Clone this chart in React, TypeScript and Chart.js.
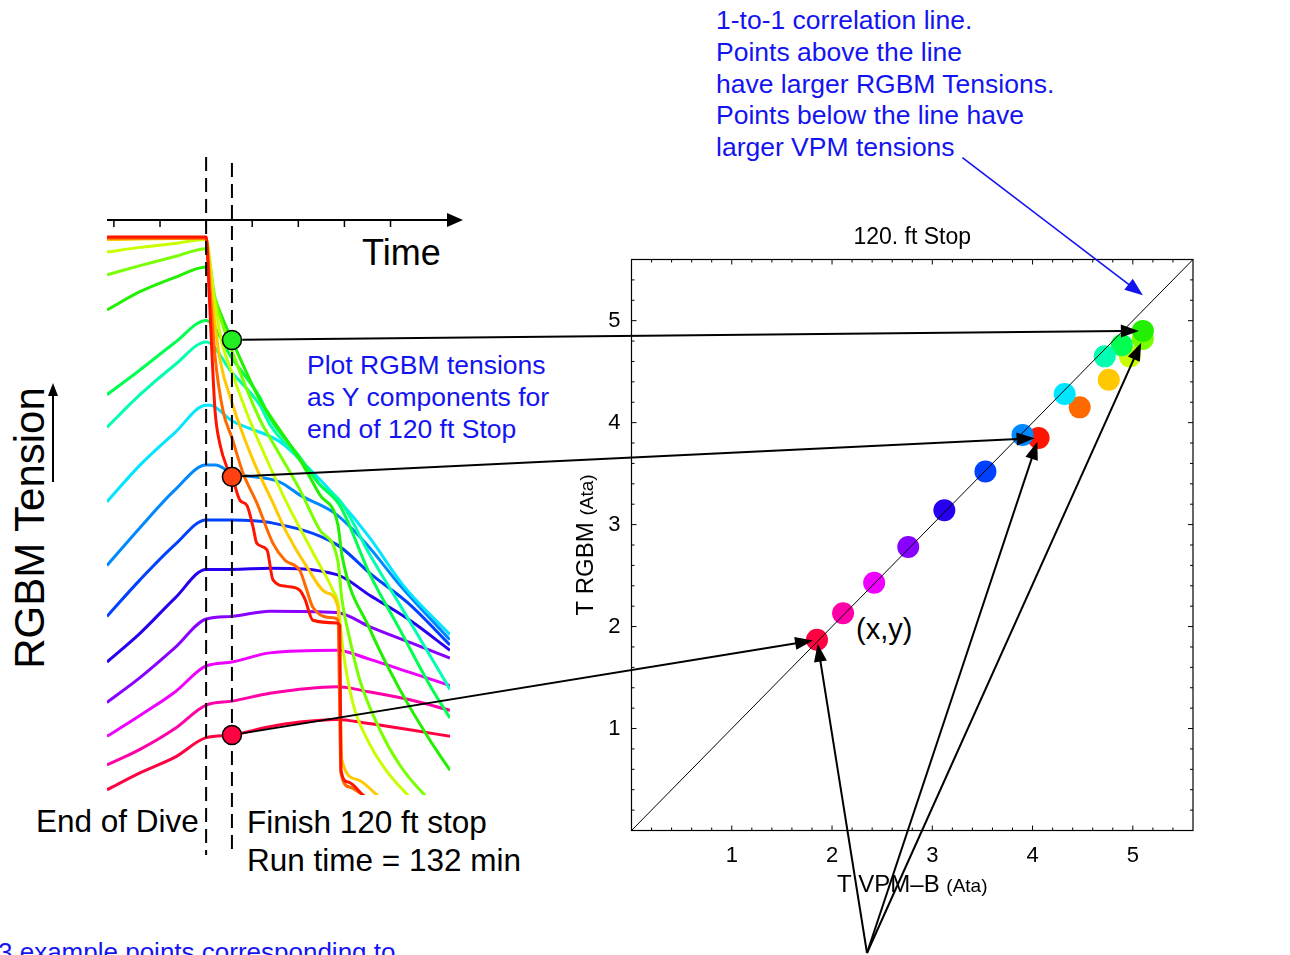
import React, { useEffect, useRef } from 'react';
import { Chart, registerables } from 'chart.js';

Chart.register(...registerables);

const PAGE_W = 1290;
const PAGE_H = 955;
const FONT = '"Liberation Sans", Arial, Helvetica, sans-serif';
const BLUE = '#1414f0';

type Pt = [number, number];

// ---- Left panel: RGBM compartment tensions (Ata) vs run time (min) ----
const comp01: Pt[] = [[77, 5.69], [120, 5.69], [121.3, 5.27], [122.6, 4.77], [123.9, 4.35], [126, 4.1], [129.1, 3.92], [131.2, 3.85], [134.7, 3.67], [137.7, 3.63], [140.3, 3.47], [142, 3.34], [146.4, 3.29], [149, 3.06], [155, 3.01], [160.7, 2.98], [162.9, 2.91], [166.3, 2.75], [176.7, 2.73], [178, 2.71], [178.5, 1.6], [181.5, 1.51], [188, 1.41], [193, 1.33]];
const comp02: Pt[] = [[77, 5.68], [120, 5.68], [121.7, 5.28], [123.9, 4.77], [127.4, 4.35], [131.2, 4.15], [136, 3.88], [142, 3.65], [149, 3.34], [154.2, 3.21], [160.7, 3.13], [163.7, 2.98], [166.3, 2.85], [175, 2.77], [177.2, 2.75], [178.5, 1.58], [182.4, 1.47], [188, 1.41], [193, 1.35]];
const comp03: Pt[] = [[77, 5.67], [120, 5.68], [122.6, 5.21], [126, 4.75], [131.2, 4.42], [140.3, 3.98], [149, 3.65], [155, 3.42], [163.7, 3.16], [172.4, 2.96], [177.2, 2.85], [178.9, 1.68], [185.4, 1.53], [194.1, 1.41], [199.7, 1.33]];
const comp04: Pt[] = [[77, 5.575], [91.3, 5.61], [106.5, 5.64], [120, 5.67], [123.5, 5.21], [127, 4.87], [131.2, 4.65], [139, 4.28], [146.4, 3.98], [155, 3.65], [166.3, 3.27], [175, 2.98], [177.2, 2.88], [179.4, 2.52], [183.7, 2.11], [189.8, 1.84], [197.6, 1.61], [207.5, 1.41], [212.8, 1.33]];
const comp05: Pt[] = [[77, 5.4], [91.3, 5.47], [106.5, 5.54], [120, 5.6], [124, 5.21], [131.2, 4.82], [143.3, 4.29], [147.7, 4.15], [160.7, 3.75], [169.4, 3.44], [177.2, 3.2], [178.9, 2.91], [182.4, 2.6], [186.7, 2.29], [195.4, 1.91], [204, 1.64], [214.8, 1.41], [221.4, 1.31]];
const comp06: Pt[] = [[77, 5.13], [91.3, 5.27], [106.5, 5.38], [120, 5.46], [124, 5.21], [131.2, 4.9], [143.3, 4.44], [147.7, 4.32], [160.7, 3.98], [169.4, 3.71], [177.2, 3.48], [178.9, 3.25], [191.1, 2.68], [204, 2.22], [217.1, 1.83], [225.8, 1.6]];
const comp07: Pt[] = [[77, 4.48], [91.3, 4.67], [106.5, 4.88], [120, 5.05], [131.2, 4.76], [143.3, 4.46], [147.7, 4.3], [160.7, 4.0], [169.4, 3.79], [178, 3.63], [191.1, 3.1], [204, 2.68], [217.1, 2.25], [225.8, 2.0]];
const comp08: Pt[] = [[77, 4.23], [91.3, 4.48], [106.5, 4.71], [120, 4.885], [131.2, 4.65], [143.3, 4.4], [147.7, 4.25], [160.7, 3.98], [169.4, 3.79], [178, 3.67], [191.1, 3.25], [204, 2.87], [217.1, 2.48], [225.8, 2.22]];
const comp09: Pt[] = [[77, 3.66], [91.3, 3.94], [106.5, 4.19], [120, 4.4], [121.7, 4.4], [131.2, 4.28], [152, 4.12], [162, 3.96], [176.7, 3.69], [191.1, 3.38], [205.4, 3.02], [225.8, 2.64]];
const comp10: Pt[] = [[77, 3.17], [91.3, 3.46], [106.5, 3.75], [120, 3.94], [124, 3.94], [131.2, 3.88], [152, 3.81], [160.7, 3.71], [175.9, 3.57], [189.8, 3.33], [204, 3.02], [225.8, 2.6]];
const comp11: Pt[] = [[77, 2.78], [91.3, 3.06], [106.5, 3.33], [120, 3.52], [131.2, 3.52], [147.7, 3.5], [176.7, 3.33], [191.1, 3.11], [208.4, 2.87], [225.8, 2.56]];
const comp12: Pt[] = [[77, 2.43], [91.3, 2.65], [106.5, 2.92], [120, 3.14], [131.2, 3.14], [147.7, 3.15], [176.7, 3.1], [191.1, 2.94], [208.4, 2.75], [225.8, 2.52]];
const comp13: Pt[] = [[77, 2.12], [91.3, 2.31], [106.5, 2.54], [120, 2.76], [131.2, 2.78], [147.7, 2.82], [176.7, 2.81], [191.1, 2.7], [208.4, 2.58], [225.8, 2.46]];
const comp14: Pt[] = [[77, 1.86], [91.3, 2.02], [106.5, 2.2], [120, 2.4], [131.2, 2.43], [147.7, 2.5], [176.7, 2.52], [191.1, 2.45], [208.4, 2.35], [225.8, 2.25]];
const comp15: Pt[] = [[77, 1.64], [91.3, 1.76], [106.5, 1.92], [120, 2.1], [131.2, 2.13], [147.7, 2.19], [176.7, 2.24], [191.1, 2.2], [208.4, 2.14], [225.8, 2.06]];
const comp16: Pt[] = [[77, 1.45], [91.3, 1.58], [106.5, 1.7], [120, 1.85], [131.2, 1.87], [146.4, 1.93], [160.7, 1.97], [176.7, 1.99], [189.8, 1.96], [208.4, 1.91], [225.8, 1.86]];

const tensionCurves: Pt[][] = [comp01, comp02, comp03, comp04, comp05, comp06, comp07, comp08, comp09, comp10, comp11, comp12, comp13, comp14, comp15, comp16];

const compartmentColors = ['#ff1400', '#ff6a00', '#ffc800', '#c8ff00', '#78ff00', '#22f000', '#00ff50', '#00ffb0', '#00e6ff', '#0088ff', '#0040ff', '#2800f0', '#8800ff', '#ee00ff', '#ff00a8', '#ff0040'];

const timeRange = [77, 225.8];
const leftTensionRange = [1.41, 5.82];
const timeTicks = [80, 100, 120, 140, 160, 180, 200];
const endOfDiveTime = 120;
const stopEndTime = 131.2;
const markedCompartments = [6, 1, 16];
const markerColors = ['#22ee22', '#ff4010', '#ff0040'];
const apexTargets = [16, 1, 5];

// ---- Right panel: VPM-B (x) vs RGBM (y) tensions at end of 120 ft stop ----
const vpmTension = [4.06, 4.47, 4.76, 4.97, 5.1, 5.1, 4.89, 4.72, 4.32, 3.9, 3.53, 3.12, 2.76, 2.42, 2.11, 1.85];
const rgbmTension = [3.85, 4.15, 4.42, 4.65, 4.82, 4.9, 4.76, 4.65, 4.28, 3.88, 3.52, 3.14, 2.78, 2.43, 2.13, 1.87];
const axisRange = [0, 5.6];
const axisTicks = [1, 2, 3, 4, 5];
const identityLine = [0, 5.6];
const noteArrowFrom = { x: 3.3, y: 6.6 };
const noteArrowTo = { x: 5.1, y: 5.25 };

// ---- layout ----
const LEFT_AREA = { left: 107, top: 220, right: 450, bottom: 795 };
const RIGHT_AREA = { left: 631.5, top: 259.5, right: 1193, bottom: 830.5 };
const Y_AXIS_W = 70;
const X_AXIS_H = 60;
const APEX = { x: 867, y: 953 };

function valueAt(comp: number, t: number): number {
  const p = tensionCurves[comp - 1].find((q) => Math.abs(q[0] - t) < 1e-9);
  return p ? p[1] : NaN;
}

function arrow(ctx: CanvasRenderingContext2D, x1: number, y1: number, x2: number, y2: number, color: string, lw: number, headLen: number, headHalf: number) {
  const ang = Math.atan2(y2 - y1, x2 - x1);
  const c = Math.cos(ang), s = Math.sin(ang);
  const bx = x2 - headLen * c, by = y2 - headLen * s;
  ctx.save();
  ctx.strokeStyle = color;
  ctx.fillStyle = color;
  ctx.lineWidth = lw;
  ctx.beginPath();
  ctx.moveTo(x1, y1);
  ctx.lineTo(bx + c, by + s);
  ctx.stroke();
  ctx.beginPath();
  ctx.moveTo(x2, y2);
  ctx.lineTo(bx - headHalf * s, by + headHalf * c);
  ctx.lineTo(bx + headHalf * s, by - headHalf * c);
  ctx.closePath();
  ctx.fill();
  ctx.restore();
}

function mixedText(ctx: CanvasRenderingContext2D, parts: { text: string; size: number }[], cx: number, baseline: number) {
  const widths = parts.map((p) => {
    ctx.font = `${p.size}px ${FONT}`;
    return ctx.measureText(p.text).width;
  });
  let x = cx - widths.reduce((a, b) => a + b, 0) / 2;
  ctx.textAlign = 'left';
  ctx.textBaseline = 'alphabetic';
  parts.forEach((p, i) => {
    ctx.font = `${p.size}px ${FONT}`;
    ctx.fillText(p.text, x, baseline);
    x += widths[i];
  });
}

const leftDecor = {
  id: 'leftDecor',
  beforeDatasetDraw(chart: any, args: any) {
    if (args.index !== tensionCurves.length) return;
    const { ctx, scales } = chart;
    const xs = scales.x;
    ctx.save();
    ctx.strokeStyle = '#000';
    ctx.lineWidth = 2;
    ctx.setLineDash([14, 7]);
    const x1 = xs.getPixelForValue(endOfDiveTime);
    const x2 = xs.getPixelForValue(stopEndTime);
    ctx.beginPath();
    ctx.moveTo(x1, 157);
    ctx.lineTo(x1, 855);
    ctx.moveTo(x2, 163);
    ctx.lineTo(x2, 855);
    ctx.stroke();
    ctx.restore();
  },
  afterDraw(chart: any) {
    const { ctx, chartArea: a, scales } = chart;
    const xs = scales.x;
    ctx.save();
    ctx.strokeStyle = '#000';
    ctx.fillStyle = '#000';
    ctx.lineWidth = 2;
    ctx.beginPath();
    ctx.moveTo(a.left, a.top);
    ctx.lineTo(452, a.top);
    ctx.stroke();
    ctx.beginPath();
    ctx.moveTo(463, a.top);
    ctx.lineTo(447, a.top - 7);
    ctx.lineTo(447, a.top + 7);
    ctx.closePath();
    ctx.fill();
    ctx.lineWidth = 1.5;
    timeTicks.forEach((t) => {
      const px = xs.getPixelForValue(t);
      ctx.beginPath();
      ctx.moveTo(px, a.top);
      ctx.lineTo(px, a.top + 7);
      ctx.stroke();
    });
    ctx.restore();
    arrow(ctx, 53, 482, 53, 383, '#000', 2, 13, 5);
  },
};

function makeLeftConfig(): any {
  const datasets: any[] = tensionCurves.map((pts, i) => ({
    type: 'line',
    data: pts.map(([t, v]) => ({ x: t, y: v })),
    borderColor: compartmentColors[i],
    borderWidth: 3,
    pointRadius: 0,
    fill: false,
    cubicInterpolationMode: 'monotone',
    clip: 0,
    order: 1,
  }));
  datasets.push({
    type: 'line',
    data: markedCompartments.map((c) => ({ x: stopEndTime, y: valueAt(c, stopEndTime) })),
    showLine: false,
    pointRadius: 9.5,
    pointBackgroundColor: markerColors,
    pointBorderColor: '#000',
    pointBorderWidth: 1.5,
    clip: false,
    order: 0,
  });
  return {
    type: 'line',
    data: { datasets },
    options: {
      responsive: false,
      animation: false,
      events: [],
      layout: { padding: { left: LEFT_AREA.left, top: LEFT_AREA.top, right: PAGE_W - LEFT_AREA.right, bottom: PAGE_H - LEFT_AREA.bottom } },
      plugins: { legend: { display: false }, tooltip: { enabled: false }, title: { display: false } },
      scales: {
        x: { type: 'linear', min: timeRange[0], max: timeRange[1], display: false },
        y: { type: 'linear', min: leftTensionRange[0], max: leftTensionRange[1], display: false },
      },
    },
    plugins: [leftDecor],
  };
}

function makeRightConfig(left: Chart): any {
  const rightDecor = {
    id: 'rightDecor',
    beforeDatasetsDraw(chart: any) {
      const { ctx, chartArea: a, scales } = chart;
      const xs = scales.x, ys = scales.y;
      ctx.save();
      ctx.strokeStyle = '#000';
      ctx.lineWidth = 1.2;
      ctx.strokeRect(a.left, a.top, a.right - a.left, a.bottom - a.top);
      ctx.lineWidth = 1;
      for (let i = 1; i * 0.2 < axisRange[1] - 1e-6; i++) {
        const v = i * 0.2;
        const major = Math.abs(v - Math.round(v)) < 1e-6;
        const len = major ? 5 : 3;
        const px = xs.getPixelForValue(v);
        const py = ys.getPixelForValue(v);
        ctx.beginPath();
        ctx.moveTo(px, a.bottom);
        ctx.lineTo(px, a.bottom - len);
        ctx.moveTo(px, a.top);
        ctx.lineTo(px, a.top + len);
        ctx.moveTo(a.left, py);
        ctx.lineTo(a.left + len, py);
        ctx.moveTo(a.right, py);
        ctx.lineTo(a.right - len, py);
        ctx.stroke();
      }
      ctx.restore();
    },
    afterDraw(chart: any) {
      const { ctx, chartArea: a, scales } = chart;
      const xs = scales.x, ys = scales.y;
      const cx = (a.left + a.right) / 2;
      ctx.save();
      ctx.fillStyle = '#000';
      ctx.font = `23px ${FONT}`;
      ctx.textAlign = 'center';
      ctx.textBaseline = 'alphabetic';
      ctx.fillText('120. ft Stop', cx, 244);
      mixedText(ctx, [{ text: 'T VPM–B ', size: 24 }, { text: '(Ata)', size: 19 }], cx, 892);
      ctx.save();
      ctx.translate(593, (a.top + a.bottom) / 2);
      ctx.rotate(-Math.PI / 2);
      mixedText(ctx, [{ text: 'T RGBM ', size: 24 }, { text: '(Ata)', size: 19 }], 0, 0);
      ctx.restore();
      ctx.restore();

      // arrows from left-panel markers to the scatter points
      const lx = left.scales.x, ly = left.scales.y;
      const r0 = 10.3;
      markedCompartments.forEach((c) => {
        const sx = lx.getPixelForValue(stopEndTime);
        const sy = ly.getPixelForValue(valueAt(c, stopEndTime));
        const tx = xs.getPixelForValue(vpmTension[c - 1]);
        const ty = ys.getPixelForValue(rgbmTension[c - 1]);
        const d = Math.hypot(tx - sx, ty - sy);
        const ux = (tx - sx) / d, uy = (ty - sy) / d;
        arrow(ctx, sx + ux * r0, sy + uy * r0, tx - ux * 4, ty - uy * 4, '#000', 2, 18, 6.5);
      });
      apexTargets.forEach((c) => {
        const tx = xs.getPixelForValue(vpmTension[c - 1]);
        const ty = ys.getPixelForValue(rgbmTension[c - 1]);
        const d = Math.hypot(tx - APEX.x, ty - APEX.y);
        const ux = (tx - APEX.x) / d, uy = (ty - APEX.y) / d;
        arrow(ctx, APEX.x, APEX.y, tx - ux * 4, ty - uy * 4, '#000', 2, 18, 6.5);
      });
      arrow(
        ctx,
        xs.getPixelForValue(noteArrowFrom.x),
        ys.getPixelForValue(noteArrowFrom.y),
        xs.getPixelForValue(noteArrowTo.x),
        ys.getPixelForValue(noteArrowTo.y),
        BLUE,
        1.6,
        18,
        7
      );
    },
  };

  const tickFont = { family: FONT, size: 22 };
  return {
    type: 'scatter',
    data: {
      datasets: [
        {
          type: 'line',
          data: identityLine.map((v) => ({ x: v, y: v })),
          borderColor: '#000',
          borderWidth: 1,
          pointRadius: 0,
          fill: false,
          order: 0,
        },
        {
          type: 'scatter',
          data: vpmTension.map((v, i) => ({ x: v, y: rgbmTension[i] })),
          backgroundColor: compartmentColors,
          pointBackgroundColor: compartmentColors,
          pointRadius: 11,
          pointBorderWidth: 0,
          borderWidth: 0,
          order: 1,
        },
      ],
    },
    options: {
      responsive: false,
      animation: false,
      events: [],
      layout: {
        padding: {
          left: RIGHT_AREA.left - Y_AXIS_W,
          top: RIGHT_AREA.top,
          right: PAGE_W - RIGHT_AREA.right,
          bottom: PAGE_H - RIGHT_AREA.bottom - X_AXIS_H,
        },
      },
      plugins: { legend: { display: false }, tooltip: { enabled: false }, title: { display: false } },
      scales: {
        x: {
          type: 'linear',
          position: 'bottom',
          min: axisRange[0],
          max: axisRange[1],
          grid: { display: false },
          border: { display: false },
          ticks: { font: tickFont, color: '#000', padding: 4, maxRotation: 0, autoSkip: false },
          afterBuildTicks: (s: any) => {
            s.ticks = axisTicks.map((v) => ({ value: v }));
          },
          afterFit: (s: any) => {
            s.height = X_AXIS_H;
          },
        },
        y: {
          type: 'linear',
          position: 'left',
          min: axisRange[0],
          max: axisRange[1],
          grid: { display: false },
          border: { display: false },
          ticks: { font: tickFont, color: '#000', padding: 3, autoSkip: false },
          afterBuildTicks: (s: any) => {
            s.ticks = axisTicks.map((v) => ({ value: v }));
          },
          afterFit: (s: any) => {
            s.width = Y_AXIS_W;
          },
        },
      },
    },
    plugins: [rightDecor],
  };
}

function Label(props: { text: string; left: number; baseline: number; size: number; color?: string }) {
  const { text, left, baseline, size, color } = props;
  return (
    <div
      style={{
        position: 'absolute',
        left,
        top: baseline - 0.8465 * size,
        fontSize: size,
        lineHeight: `${size}px`,
        whiteSpace: 'nowrap',
        color: color || '#000',
        fontFamily: FONT,
      }}
    >
      {text}
    </div>
  );
}

const noteLines = ['1-to-1 correlation line.', 'Points above the line', 'have larger RGBM Tensions.', 'Points below the line have', 'larger VPM tensions'];
const noteBaselines = [29, 61, 93, 124, 156];
const plotLines = ['Plot RGBM tensions', 'as Y components for', 'end of 120 ft Stop'];
const plotBaselines = [374, 406, 438];

export default function App() {
  const leftRef = useRef<HTMLCanvasElement>(null);
  const rightRef = useRef<HTMLCanvasElement>(null);

  useEffect(() => {
    const left = new Chart(leftRef.current as HTMLCanvasElement, makeLeftConfig());
    const right = new Chart(rightRef.current as HTMLCanvasElement, makeRightConfig(left));
    return () => {
      right.destroy();
      left.destroy();
    };
  }, []);

  return (
    <div style={{ position: 'absolute', left: 0, top: 0, width: PAGE_W, height: PAGE_H, overflow: 'hidden', background: '#fff' }}>
      <Label text="Time" left={362} baseline={265} size={36} />
      <div
        style={{
          position: 'absolute',
          left: 30,
          top: 528,
          transform: 'translate(-50%, -50%) rotate(-90deg)',
          fontSize: 42,
          lineHeight: '42px',
          whiteSpace: 'nowrap',
          fontFamily: FONT,
          color: '#000',
        }}
      >
        RGBM Tension
      </div>
      <Label text="End of Dive" left={36} baseline={833} size={31.5} />
      <Label text="Finish 120 ft stop" left={247} baseline={834} size={31.5} />
      <Label text="Run time = 132 min" left={247} baseline={872} size={31.5} />
      {plotLines.map((t, i) => (
        <Label key={t} text={t} left={307} baseline={plotBaselines[i]} size={26.5} color={BLUE} />
      ))}
      {noteLines.map((t, i) => (
        <Label key={t} text={t} left={716} baseline={noteBaselines[i]} size={26.5} color={BLUE} />
      ))}
      <Label text="(x,y)" left={856} baseline={640} size={29} />
      <Label text="3 example points corresponding to" left={-2} baseline={961} size={26} color={BLUE} />
      <canvas ref={leftRef} width={PAGE_W} height={PAGE_H} style={{ position: 'absolute', left: 0, top: 0 }} />
      <canvas ref={rightRef} width={PAGE_W} height={PAGE_H} style={{ position: 'absolute', left: 0, top: 0 }} />
    </div>
  );
}
